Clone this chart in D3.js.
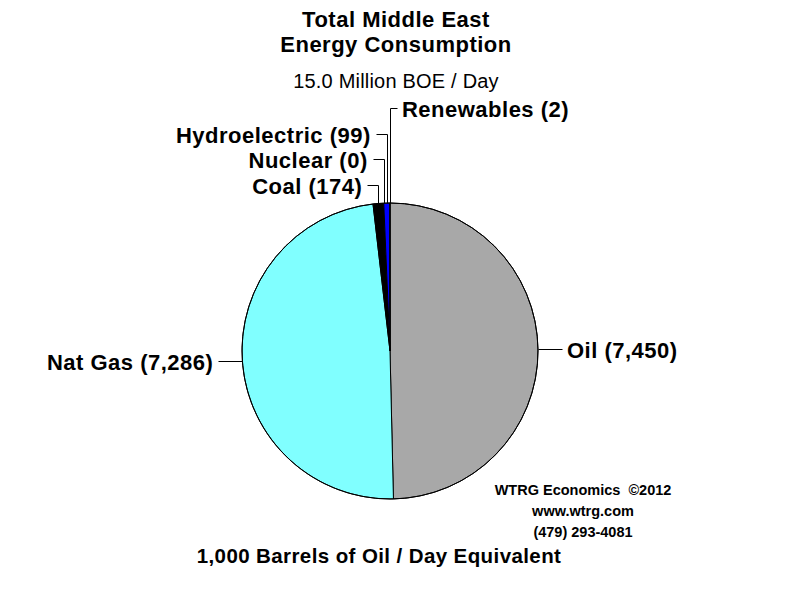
<!DOCTYPE html>
<html>
<head>
<meta charset="utf-8">
<script src="https://cdn.jsdelivr.net/npm/d3@7"></script>
<style>
  html, body { margin: 0; padding: 0; background: #fff; }
  svg { display: block; }
  text { font-family: "Liberation Sans", Arial, sans-serif; fill: #000; }
</style>
</head>
<body>
<svg id="chart" width="800" height="600"></svg>
<script>
// ---- Data ----
const categories = ["Oil", "Nat Gas", "Coal", "Nuclear", "Hydroelectric", "Renewables"];
const values = [7450, 7286, 174, 0, 99, 2];
const sliceColors = ["#a8a8a8", "#80ffff", "#000000", "#ff00ff", "#0000ff", "#00c000"];
const titleLines = ["Total Middle East", "Energy Consumption"];
const subtitle = "15.0 Million BOE / Day";
const footer = "1,000 Barrels of Oil / Day Equivalent";
const credits = ["WTRG Economics  \u00A92012", "www.wtrg.com", "(479) 293-4081"];

// ---- Layout ----
const W = 800, H = 600;
const cx = 390, cy = 351, R = 148;
const labelLayout = {
  "Oil":           { type: "side", len: 24 },
  "Nat Gas":       { type: "side", len: 24 },
  "Coal":          { type: "elbow", y: 185, dir: -1, len: 11 },
  "Nuclear":       { type: "elbow", y: 159, dir: -1, len: 11 },
  "Hydroelectric": { type: "elbow", y: 134, dir: -1, len: 11 },
  "Renewables":    { type: "elbow", y: 108, dir: 1, len: 7 }
};

const svg = d3.select("#chart");
svg.append("rect").attr("width", W).attr("height", H).attr("fill", "#fff");

const data = categories.map((c, i) => ({ name: c, value: values[i], color: sliceColors[i] }));
const pie = d3.pie().value(d => d.value).sort(null).startAngle(0).endAngle(2 * Math.PI);
const arcs = pie(data);
const arc = d3.arc().innerRadius(0).outerRadius(R);

const g = svg.append("g").attr("transform", `translate(${cx},${cy})`);
g.selectAll("path.slice")
  .data(arcs.filter(a => a.value > 0))
  .join("path")
  .attr("class", "slice")
  .attr("d", arc)
  .attr("fill", d => d.data.color)
  .attr("stroke", "#000")
  .attr("stroke-width", 1)
  .attr("stroke-linejoin", "round");

g.append("circle").attr("r", R).attr("fill", "none").attr("stroke", "#000").attr("stroke-width", 1);

// ---- Labels ----
const fmt = d3.format(",");
const labelFont = 22;
const lbl = svg.append("g");
arcs.forEach(a => {
  const name = a.data.name;
  const L = labelLayout[name];
  const mid = (a.startAngle + a.endAngle) / 2;
  const px = cx + R * Math.sin(mid);
  const py = cy - R * Math.cos(mid);
  const text = `${name} (${fmt(a.data.value)})`;
  let pts, tx, ty, anchor;
  if (L.type === "side") {
    const dir = Math.sin(mid) >= 0 ? 1 : -1;
    pts = [[px, py], [px + dir * L.len, py]];
    tx = px + dir * (L.len + 5);
    ty = py;
    anchor = dir > 0 ? "start" : "end";
  } else {
    pts = [[px, py], [px, L.y], [px + L.dir * L.len, L.y]];
    tx = px + L.dir * (L.len + 5);
    ty = L.y;
    anchor = L.dir > 0 ? "start" : "end";
  }
  lbl.append("path")
    .attr("d", d3.line()(pts.map(p => [Math.round(p[0]) + 0.5, Math.round(p[1]) + 0.5])))
    .attr("fill", "none").attr("stroke", "#000").attr("stroke-width", 1);
  lbl.append("text")
    .attr("x", tx).attr("y", ty + 8.5)
    .attr("text-anchor", anchor)
    .attr("font-size", labelFont)
    .attr("font-weight", "bold")
    .attr("letter-spacing", "0.5px")
    .text(text);
});

// ---- Titles ----
const titleY = [27, 52];
titleLines.forEach((t, i) => {
  svg.append("text").attr("x", 396).attr("y", titleY[i])
    .attr("text-anchor", "middle").attr("font-size", 22).attr("font-weight", "bold")
    .attr("letter-spacing", "0.5px")
    .text(t);
});
svg.append("text").attr("x", 396).attr("y", 88)
  .attr("text-anchor", "middle").attr("font-size", 20)
  .attr("letter-spacing", "0.2px")
  .text(subtitle);
svg.append("text").attr("x", 379).attr("y", 563)
  .attr("text-anchor", "middle").attr("font-size", 20.5).attr("font-weight", "bold")
  .attr("letter-spacing", "0.4px")
  .text(footer);
const creditY = [495, 516, 537];
credits.forEach((t, i) => {
  svg.append("text").attr("x", 583).attr("y", creditY[i])
    .attr("text-anchor", "middle").attr("font-size", 14.5).attr("font-weight", "bold")
    .style("white-space", "pre")
    .attr("xml:space", "preserve")
    .text(t);
});
</script>
</body>
</html>
